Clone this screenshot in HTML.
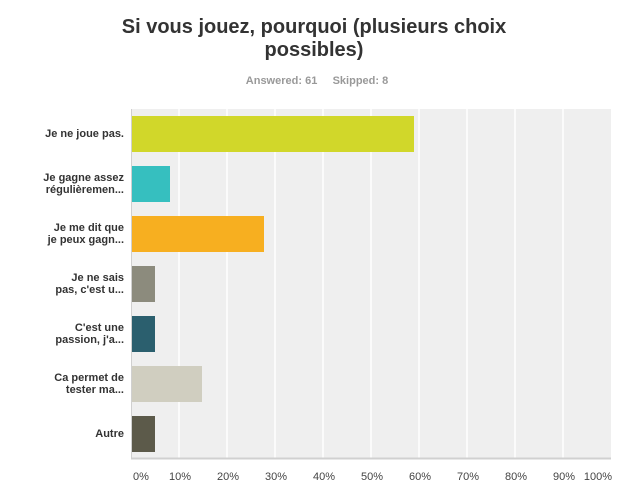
<!DOCTYPE html>
<html><head><meta charset="utf-8"><style>
body{margin:0;width:634px;height:499px;background:#fff;font-family:"Liberation Sans",sans-serif;position:relative;overflow:hidden}
.t{position:absolute;left:-3px;width:634px;text-align:center;font-size:20px;font-weight:bold;color:#333;line-height:23px}
.s{position:absolute;top:75px;left:0;width:634px;text-align:center;font-size:11px;font-weight:bold;color:#999}
.lab{position:absolute;right:510px;width:120px;text-align:right;font-size:11px;font-weight:bold;color:#333;line-height:12px}
.x{position:absolute;top:471px;font-size:11px;color:#444;width:40px;text-align:center}
</style></head><body>
<div class="t" style="top:16px">Si vous jouez, pourquoi (plusieurs choix</div>
<div class="t" style="top:39px">possibles)</div>
<div class="s">Answered: 61&nbsp;&nbsp;&nbsp;&nbsp;&nbsp;Skipped: 8</div>
<svg width="634" height="499" style="position:absolute;left:0;top:0">
<rect x="131" y="109" width="480" height="349" fill="#efefef"/>
<g stroke="#fff" stroke-width="1.5">
<line x1="179" y1="109" x2="179" y2="458"/><line x1="227" y1="109" x2="227" y2="458"/><line x1="275" y1="109" x2="275" y2="458"/><line x1="323" y1="109" x2="323" y2="458"/><line x1="371" y1="109" x2="371" y2="458"/><line x1="419" y1="109" x2="419" y2="458"/><line x1="467" y1="109" x2="467" y2="458"/><line x1="515" y1="109" x2="515" y2="458"/><line x1="563" y1="109" x2="563" y2="458"/>
</g>
<line x1="131" y1="458.5" x2="611" y2="458.5" stroke="#d0d0d0" stroke-width="2"/>
<line x1="131.5" y1="109" x2="131.5" y2="459" stroke="#d0d0d0" stroke-width="1"/>
<rect x="132" y="116" width="282" height="36" fill="#d1d72a"/>
<rect x="132" y="166" width="38" height="36" fill="#36bfbf"/>
<rect x="132" y="216" width="132" height="36" fill="#f7af20"/>
<rect x="132" y="266" width="23" height="36" fill="#8c8b7d"/>
<rect x="132" y="316" width="23" height="36" fill="#2b5f6e"/>
<rect x="132" y="366" width="70" height="36" fill="#d0cec0"/>
<rect x="132" y="416" width="23" height="36" fill="#5c5a4a"/>
</svg>
<div class="lab" style="top:128px">Je ne joue pas.</div>
<div class="lab" style="top:172px">Je gagne assez<br>régulièremen...</div>
<div class="lab" style="top:222px">Je me dit que<br>je peux gagn...</div>
<div class="lab" style="top:272px">Je ne sais<br>pas, c'est u...</div>
<div class="lab" style="top:322px">C'est une<br>passion, j'a...</div>
<div class="lab" style="top:372px">Ca permet de<br>tester ma...</div>
<div class="lab" style="top:428px">Autre</div>
<div class="x" style="left:121px">0%</div>
<div class="x" style="left:160px">10%</div>
<div class="x" style="left:208px">20%</div>
<div class="x" style="left:256px">30%</div>
<div class="x" style="left:304px">40%</div>
<div class="x" style="left:352px">50%</div>
<div class="x" style="left:400px">60%</div>
<div class="x" style="left:448px">70%</div>
<div class="x" style="left:496px">80%</div>
<div class="x" style="left:544px">90%</div>
<div class="x" style="left:578px">100%</div>
</body></html>
